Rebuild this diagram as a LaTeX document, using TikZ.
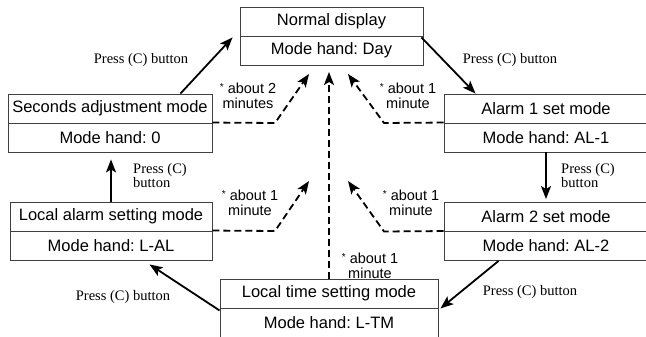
\documentclass[tikz,border=0pt]{standalone}
\usepackage{fontspec}
\setmainfont{Liberation Sans}
\newfontfamily\serifface{Liberation Serif}
\usetikzlibrary{arrows.meta,calc}
\newcommand\smstar{{\fontsize{10}{10}\selectfont\raisebox{2.5pt}{*}}}
\frenchspacing
\begin{document}
\begin{tikzpicture}[x=1pt,y=-1pt,
  box/.style={draw=black!75, line width=0.9pt, minimum height=29pt, inner sep=0pt,
    font=\fontsize{16.5}{19}\selectfont},
  arr/.style={line width=1.8pt, -{Stealth[length=13pt,width=10pt,inset=3pt]}},
  darr/.style={arr, dash pattern=on 7pt off 4pt},
  plab/.style={font=\serifface\fontsize{14.5}{14}\selectfont, inner sep=0pt},
  alab/.style={font=\fontsize{14.5}{15}\selectfont, inner sep=0pt, align=center},
]
\useasboundingbox (0,0) rectangle (646,337);
\clip (0,0) rectangle (646,337);
\fill[white] (0,0) rectangle (646,337);

% boxes
\node[box, minimum width=183pt] (N1) at (331.5,21.5) {Normal display};
\node[box, minimum width=183pt] (N2) at (331.5,50.5) {Mode hand: Day};
\node[box, minimum width=204pt] (S1) at (110,108.5) {Seconds adjustment mode};
\node[box, minimum width=204pt] (S2) at (110,137.5) {Mode hand: 0};
\node[box, minimum width=204pt] (A1) at (546,108.5) {Alarm 1 set mode};
\node[box, minimum width=204pt] (A1b) at (546,137.5) {Mode hand: AL-1};
\node[box, minimum width=204pt] (A2) at (546,217) {Alarm 2 set mode};
\node[box, minimum width=204pt] (A2b) at (546,246) {Mode hand: AL-2};
\node[box, minimum width=202pt] (LA) at (111,216.5) {Local alarm setting mode};
\node[box, minimum width=202pt] (LAb) at (111,245.5) {Mode hand: L-AL};
\node[box, minimum width=218pt] (LT) at (329,293.5) {Local time setting mode};
\node[box, minimum width=218pt] (LTb) at (329,322.5) {Mode hand: L-TM};

% free coordinates
\coordinate (dS) at (275,123);
\coordinate (tS) at (309,74);
\coordinate (dA1) at (384,123);
\coordinate (tA1) at (348,74);
\coordinate (dA2) at (384,231.5);
\coordinate (tA2) at (348,181);
\coordinate (dLA) at (275,231);
\coordinate (tLA) at (309,181);
\coordinate (tV) at (329,72);

% solid arrows (Press (C) button)
\draw[arr] ([xshift=-32pt]S1.north east) -- ([xshift=-7pt,yshift=-1pt]N1.south west);
\draw[arr] ([xshift=-2pt,yshift=-1pt]N1.south east) -- ([xshift=32pt]A1.north west);
\draw[arr, shorten >=3pt] (A1b.south) -- (A2.north);
\draw[arr] ([xshift=55pt]A2b.south west) -- ([xshift=2pt]LT.south east);
\draw[arr] ([yshift=-2pt]LT.south west) -- ([xshift=140pt,yshift=-4pt]LAb.south west);
\draw[arr, shorten >=7pt] (LA.north) -- (LA.north |- S2.south);

% dashed arrows (timeouts)
\draw[darr] (S2.north east) -- (dS) -- (tS);
\draw[darr] (A1b.north west) -- (dA1) -- (tA1);
\draw[darr] (A2b.north west) -- (dA2) -- (tA2);
\draw[darr] (LAb.north east) -- (dLA) -- (tLA);
\draw[darr] (LT.north) -- (tV);

% labels
\node[plab] (p1) at (141,60) {Press (C) button};
\node[plab] (p2) at (510,60) {Press (C) button};
\node[plab, anchor=west, align=left] (p3) at (561,176) {Press (C)\\button};
\node[plab] (p4) at (530,292) {Press (C) button};
\node[plab] (p5) at (123,297) {Press (C) button};
\node[plab, anchor=west, align=left] (p6) at (133,176) {Press (C)\\button};

\node[alab] (d1) at (248,95.5) {\smstar{} about 2\\minutes};
\node[alab] (d2) at (408,95.5) {\smstar{} about 1\\minute};
\node[alab] (d3) at (250,202.5) {\smstar{} about 1\\minute};
\node[alab] (d4) at (411,202.5) {\smstar{} about 1\\minute};
\node[alab] (d5) at (370,265.5) {\smstar{} about 1\\minute};
\end{tikzpicture}
\end{document}
